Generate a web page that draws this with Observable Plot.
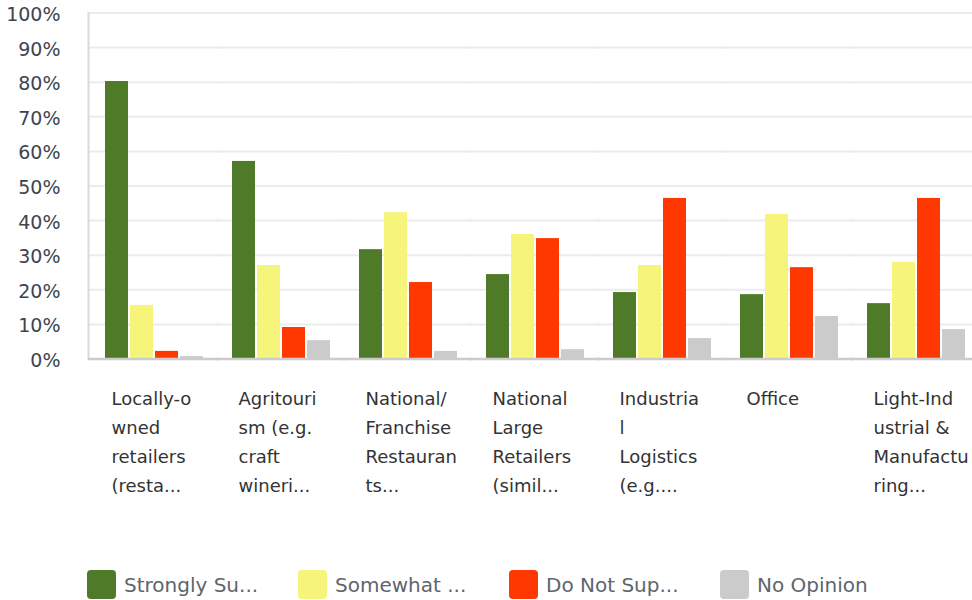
<!DOCTYPE html>
<html>
<head>
<meta charset="utf-8">
<script src="https://cdn.jsdelivr.net/npm/d3@7"></script>
<script src="https://cdn.jsdelivr.net/npm/@observablehq/plot@0.6"></script>
<style>
  html, body { margin: 0; padding: 0; background: #fff; overflow: hidden; width: 972px; height: 600px; }
  #chart svg { display: block; max-width: none !important; width: 990px !important; height: 520px !important; }
  .legend { display: flex; margin-top: 50px; padding-left: 87px; font-family: "DejaVu Sans", sans-serif; font-size: 20px; color: #60656c; }
  .legend .item { display: flex; align-items: center; width: 211px; }
  .legend .sw { width: 29px; height: 29px; border-radius: 4px; margin-right: 8px; flex: none; }
</style>
</head>
<body>
<div id="chart"></div>
<div class="legend" id="legend"></div>
<script>
const categories = [
  "Locally-o\nwned\nretailers\n(resta...",
  "Agritouri\nsm (e.g.\ncraft\nwineri...",
  "National/\nFranchise\nRestauran\nts...",
  "National\nLarge\nRetailers\n(simil...",
  "Industria\nl\nLogistics\n(e.g....",
  "Office",
  "Light-Ind\nustrial &\nManufactu\nring..."
];
const series = ["Strongly Su...", "Somewhat ...", "Do Not Sup...", "No Opinion"];
const colors = ["#4f7a28", "#f7f47c", "#ff3700", "#cbcbcb"];
const stronglySupport = [80.2, 57.1, 31.6, 24.4, 19.2, 18.6, 16.0];
const somewhatSupport = [15.5, 27.0, 42.3, 36.0, 27.0, 41.8, 27.9];
const doNotSupport    = [2.2, 9.1, 22.1, 34.8, 46.4, 26.4, 46.4];
const noOpinion       = [0.7, 5.3, 2.2, 2.7, 5.9, 12.3, 8.5];
const yTicks = [0, 10, 20, 30, 40, 50, 60, 70, 80, 90, 100];

const seriesValues = [stronglySupport, somewhatSupport, doNotSupport, noOpinion];
const data = categories.flatMap((c, i) => series.map((s, j) => ({category: c, series: s, value: seriesValues[j][i]})));
const labelData = categories.map(c => ({category: c, label: c}));

const chart = Plot.plot({
  width: 990,
  height: 520,
  marginLeft: 90,
  marginRight: 11,
  marginTop: 12.5,
  marginBottom: 161.5,
  style: {fontFamily: "DejaVu Sans, sans-serif", fontSize: "18px", color: "#333", background: "#fff"},
  fx: {domain: categories, paddingInner: 0.205, paddingOuter: 0.102, axis: null, label: null},
  x: {domain: series, paddingInner: 0.08, paddingOuter: 0, axis: null},
  y: {domain: [0, 100], axis: null},
  color: {domain: series, range: colors},
  marks: [
    Plot.ruleY(yTicks.filter(d => d > 0), {y: d => d, stroke: "#ececec", strokeWidth: 2, insetLeft: -15, insetRight: -15}),
    Plot.frame({anchor: "left", facetAnchor: "left", stroke: "#dadada", strokeWidth: 2, insetLeft: -15}),
    Plot.text(yTicks, {y: d => d, text: d => d + "%", facetAnchor: "left", frameAnchor: "left", textAnchor: "end", dx: -43, dy: 2, fill: "#3d4550", fontSize: 19}),
    Plot.barY(data, {fx: "category", x: "series", y: "value", fill: "series"}),
    Plot.ruleY([0], {stroke: "#cccccc", strokeWidth: 2.5, insetLeft: -15, insetRight: -15}),
    Plot.text(labelData, {fx: "category", text: "label", frameAnchor: "bottom-left", textAnchor: "start", lineAnchor: "top", dx: 8, dy: 26, lineHeight: 1.6, fill: "#333", fontSize: 18})
  ]
});
document.getElementById("chart").append(chart);

const legend = document.getElementById("legend");
series.forEach((s, i) => {
  const item = document.createElement("div");
  item.className = "item";
  const sw = document.createElement("span");
  sw.className = "sw";
  sw.style.background = colors[i];
  const lab = document.createElement("span");
  lab.textContent = s;
  item.append(sw, lab);
  legend.append(item);
});
</script>
</body>
</html>
